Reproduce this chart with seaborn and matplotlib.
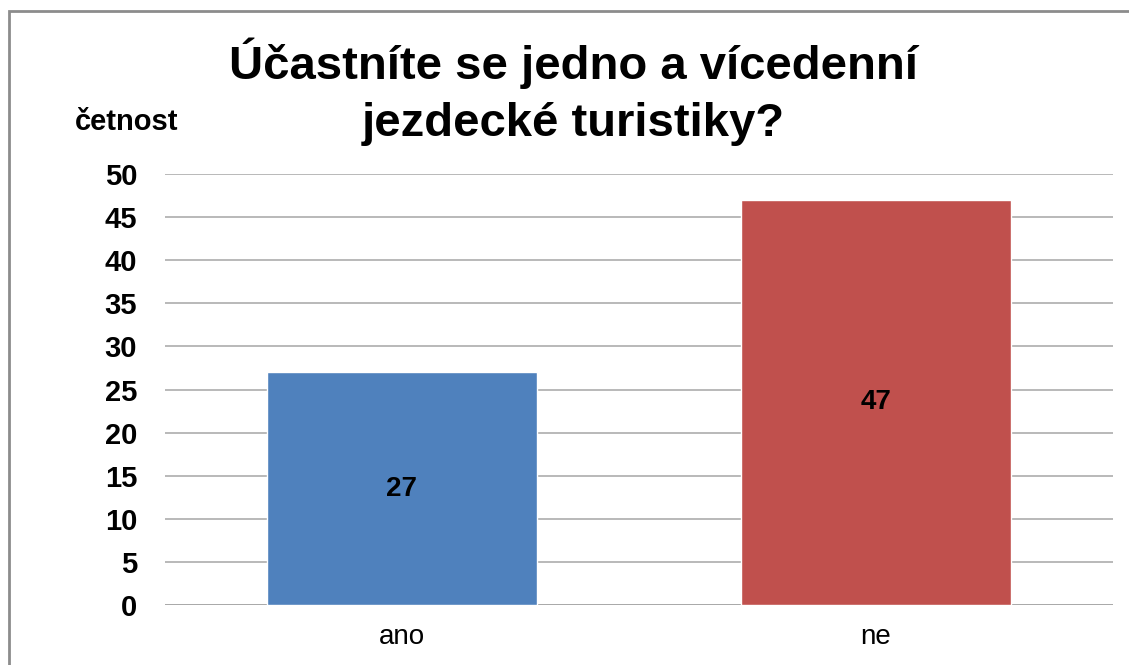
import matplotlib.pyplot as plt
import pandas as pd
import seaborn as sns
from matplotlib.patches import Rectangle

# data
categories = ["ano", "ne"]
counts = [27, 47]
bar_colors = ["#4F81BD", "#C0504D"]
y_ticks = [0, 5, 10, 15, 20, 25, 30, 35, 40, 45, 50]

title = "Účastníte se jedno a vícedenní\njezdecké turistiky?"
y_label = "četnost"

sns.set_theme(style="white")
plt.rcParams["font.family"] = ["Liberation Sans", "DejaVu Sans"]
plt.rcParams["text.color"] = "black"
plt.rcParams["xtick.color"] = "black"
plt.rcParams["ytick.color"] = "black"
plt.rcParams["xtick.labelcolor"] = "black"
plt.rcParams["ytick.labelcolor"] = "black"

df = pd.DataFrame({"odpoved": categories, "cetnost": counts})

fig = plt.figure(figsize=(11.29, 6.65), dpi=100)
ax = fig.add_axes([0.1461, 0.0902, 0.8397, 0.6481])

sns.barplot(
    data=df, x="odpoved", y="cetnost", hue="odpoved",
    palette=bar_colors, width=0.571, legend=False, saturation=1, ax=ax, zorder=3,
)

# value labels inside the bars
for bar, value in zip(ax.patches, counts):
    ax.text(
        bar.get_x() + bar.get_width() / 2, bar.get_height() / 2, str(value),
        ha="center", va="center", fontsize=20, fontweight="bold", color="black", zorder=4,
    )

ax.set_xlim(-0.5, 1.5)
ax.set_ylim(0, 50)
ax.set_yticks(y_ticks)
ax.yaxis.grid(True, color="#A6A6A6", linewidth=1.1, zorder=0)
ax.set_axisbelow(True)
for side in ["top", "right", "left", "bottom"]:
    ax.spines[side].set_visible(False)
ax.axhline(0, color="#A6A6A6", linewidth=1.1, zorder=1)

ax.tick_params(axis="y", length=0, pad=20, labelsize=21, labelcolor="black")
ax.tick_params(axis="x", length=0, pad=14, labelsize=20, labelcolor="black")
for lbl in ax.get_yticklabels():
    lbl.set_fontweight("bold")
ax.set_xlabel("")
ax.set_ylabel("")

fig.text(0.508, 0.862, title, ha="center", va="center", fontsize=34,
         fontweight="bold", linespacing=1.38, color="black")
fig.text(0.0664, 0.8165, y_label, ha="left", va="center", fontsize=21,
         fontweight="bold", color="black")

# chart-area frame (only left and top edges visible in the crop)
fig.patches.append(Rectangle(
    (9 / 1129, -0.2), 1.2, 1.2 - 11 / 665, transform=fig.transFigure,
    fill=False, edgecolor="#8C8C8C", linewidth=2, clip_on=False,
))

fig.savefig("out.png", dpi=100)
